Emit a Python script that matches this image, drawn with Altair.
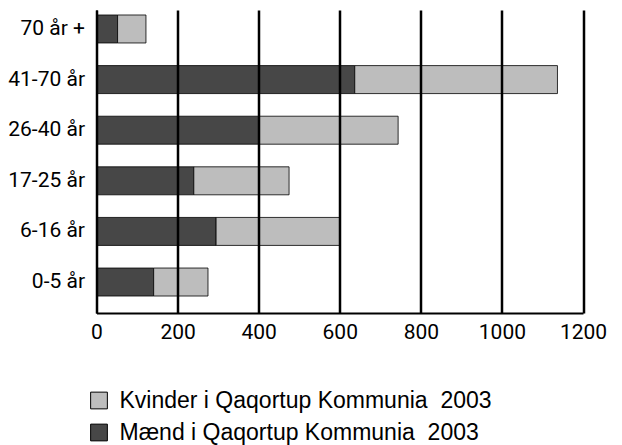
import altair as alt
import pandas as pd

ages = ["70 år +", "41-70 år", "26-40 år", "17-25 år", "6-16 år", "0-5 år"]
maend = [52, 637, 400, 240, 295, 141]
kvinder = [70, 500, 344, 235, 305, 134]
series = ["Kvinder i Qaqortup Kommunia\u00a0 2003", "Mænd i Qaqortup Kommunia\u00a0 2003"]
x_ticks = [0, 200, 400, 600, 800, 1000, 1200]

rows = []
for a, m, k in zip(ages, maend, kvinder):
    rows.append({"age": a, "serie": series[1], "value": m, "ord": 0})
    rows.append({"age": a, "serie": series[0], "value": k, "ord": 1})
df = pd.DataFrame(rows)

axis_font = "Roboto, Open Sans, sans-serif"

chart = alt.Chart(df).mark_bar(stroke="black", strokeWidth=0.8).encode(
    y=alt.Y("age:N", sort=ages, title=None,
            scale=alt.Scale(paddingInner=0.447, paddingOuter=0.217, align=0.227),
            axis=alt.Axis(ticks=False, labelPadding=12, labelFontSize=21,
                          labelFont=axis_font, labelColor="black",
                          domainColor="black", domainWidth=2, grid=False)),
    x=alt.X("value:Q", stack="zero", title=None,
            scale=alt.Scale(domain=[0, 1200], nice=False),
            axis=alt.Axis(values=x_ticks, format="d", ticks=False, labelPadding=8,
                          labelFontSize=21, labelFont=axis_font, labelColor="black",
                          domainColor="black", domainWidth=2,
                          grid=True, gridColor="black", gridWidth=2.5, gridOpacity=1,
                          labelFlush=False, zindex=1)),
    color=alt.Color("serie:N", scale=alt.Scale(domain=series, range=["#bdbdbd", "#474747"]),
                    legend=alt.Legend(title=None, orient="none", legendX=-9, legendY=379,
                                      symbolType="square", symbolSize=280,
                                      symbolStrokeColor="black", symbolStrokeWidth=1,
                                      labelFont="Liberation Sans, Arial, sans-serif",
                                      labelFontSize=23, labelColor="black", labelLimit=0,
                                      rowPadding=8, padding=0, labelOffset=9)),
    order=alt.Order("ord:Q"),
).properties(
    width=486.5, height=303,
    autosize=alt.AutoSizeParams(type="none"),
    padding={"left": 88.5, "top": 2, "right": 25, "bottom": 135},
).configure_view(stroke=None)

chart.save("out.html", embed_options={"renderer": "svg", "actions": False})
